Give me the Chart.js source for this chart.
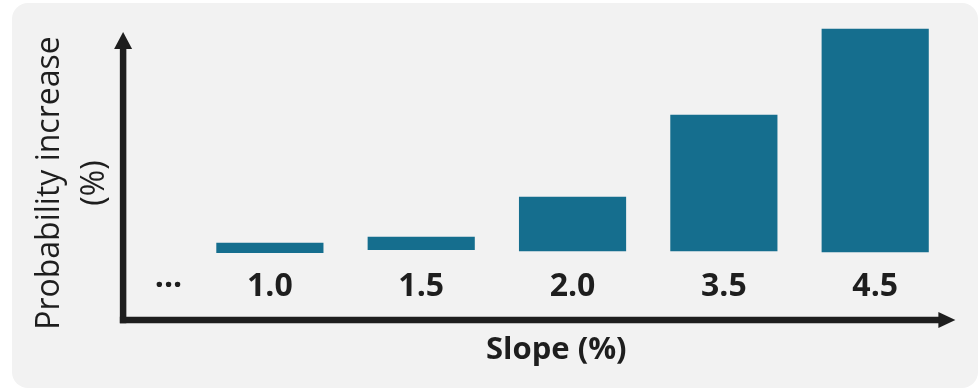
<!DOCTYPE html>
<html>
<head>
<meta charset="utf-8">
<script src="https://cdn.jsdelivr.net/npm/chart.js@4/dist/chart.umd.min.js"></script>
<style>
  html, body { margin: 0; padding: 0; background: #ffffff; }
  #wrap { position: relative; width: 980px; height: 389px; }
  #panel {
    position: absolute; left: 12px; top: 3px; width: 966px; height: 385px;
    background: #f2f2f2; border-radius: 16px;
  }
  #c { position: absolute; left: 0; top: 0; }
</style>
</head>
<body>
<div id="wrap">
  <div id="panel"></div>
  <canvas id="c" width="980" height="389"></canvas>
</div>
<script>
// Slope categories shown along the x axis
const categories = ['1.0', '1.5', '2.0', '3.5', '4.5'];
// Marker label for the omitted lower slopes
const gapLabel = '···';
// Probability increase per slope (floating bars: low / high ends)
const barLow  = [-0.5, 0.8, 0.3, 0.3, -0.1];
const barHigh = [3.7, 6.4, 23.9, 59.8, 97.4];
const xTitle = 'Slope (%)';
const yTitle = ['Probability increase', '(%)'];

const INK = '#1e1e1e';
const BAR = '#156e8e';
const FONT = "'Open Sans', 'DejaVu Sans', sans-serif";
const GAP_POS = 0.33;   // where the "···" marker sits on the slope axis

// Axis lines with arrow heads plus the slope title, drawn from the chart area
const arrowAxes = {
  id: 'arrowAxes',
  afterDraw(chart) {
    const { ctx, chartArea: a } = chart;
    const lw = 6.5, head = 17, half = 9;
    ctx.save();
    ctx.fillStyle = INK;
    ctx.strokeStyle = INK;
    ctx.lineWidth = lw;
    ctx.lineCap = 'butt';
    // vertical axis
    const yTip = a.top - 14;
    ctx.beginPath();
    ctx.moveTo(a.left, a.bottom + lw / 2);
    ctx.lineTo(a.left, yTip + head - 1);
    ctx.stroke();
    ctx.beginPath();
    ctx.moveTo(a.left, yTip);
    ctx.lineTo(a.left - half, yTip + head);
    ctx.lineTo(a.left + half, yTip + head);
    ctx.closePath();
    ctx.fill();
    // horizontal axis
    const xTip = a.right;
    ctx.beginPath();
    ctx.moveTo(a.left - lw / 2, a.bottom);
    ctx.lineTo(xTip - head + 1, a.bottom);
    ctx.stroke();
    ctx.beginPath();
    ctx.moveTo(xTip, a.bottom);
    ctx.lineTo(xTip - head, a.bottom - half + 1);
    ctx.lineTo(xTip - head, a.bottom + half - 1);
    ctx.closePath();
    ctx.fill();
    // slope axis title, set a little right of the axis centre
    ctx.font = `bold 31px ${FONT}`;
    ctx.textAlign = 'center';
    ctx.textBaseline = 'middle';
    ctx.fillText(xTitle, (a.left + a.right) / 2 + 17, a.bottom + 30);
    ctx.restore();
  }
};

new Chart(document.getElementById('c'), {
  type: 'bar',
  data: {
    datasets: [{
      data: categories.map((c, i) => ({ x: i + 1, y: [barLow[i], barHigh[i]] })),
      backgroundColor: BAR,
      borderWidth: 0,
      barThickness: 106.5,
      clip: false
    }]
  },
  options: {
    responsive: false,
    animation: false,
    devicePixelRatio: 1,
    layout: { padding: { left: 12, top: 46, right: 24.6, bottom: 41.3 } },
    plugins: { legend: { display: false }, tooltip: { enabled: false } },
    scales: {
      x: {
        type: 'linear',
        min: 0.03,
        max: 5.53,
        offset: false,
        grid: { display: false, drawTicks: false },
        border: { display: false },
        afterBuildTicks: (scale) => {
          scale.ticks = [{ value: GAP_POS }].concat(categories.map((c, i) => ({ value: i + 1 })));
        },
        ticks: {
          mirror: true,
          padding: 13.8,
          autoSkip: false,
          maxRotation: 0,
          color: INK,
          font: { family: FONT, size: 32, weight: 'bold', lineHeight: 1.2 },
          callback: (v) => v === GAP_POS ? gapLabel : categories[Math.round(v) - 1]
        },
        title: { display: false }
      },
      y: {
        min: -30,
        max: 90,
        grid: { display: false, drawTicks: false },
        border: { display: false },
        ticks: { display: false },
        title: {
          display: true,
          text: yTitle,
          color: INK,
          padding: { top: 15.5, bottom: 6 },
          font: { family: FONT, size: 32, weight: 'normal', lineHeight: 1.4 }
        }
      }
    }
  },
  plugins: [arrowAxes]
});
</script>
</body>
</html>
